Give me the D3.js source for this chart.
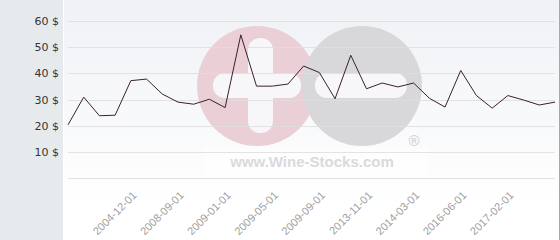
<!DOCTYPE html>
<html>
<head>
<meta charset="utf-8">
<script src="https://cdn.jsdelivr.net/npm/d3@7"></script>
<style>
  html, body { margin: 0; padding: 0; background: #fff; }
  svg { display: block; }
</style>
</head>
<body>
<div id="chart"></div>
<script>
// price history, one value per sale (32 points)
var prices = [20.3, 30.9, 23.8, 24.0, 37.2, 37.8, 32.1, 29.0, 28.2, 30.1,
              26.9, 54.7, 35.1, 35.1, 35.9, 42.8, 40.3, 30.3, 46.9, 34.1,
              36.3, 34.8, 36.3, 30.5, 27.1, 41.1, 31.5, 26.7, 31.5, 29.8,
              27.9, 29.0];
// only every 3rd point carries a date label
var labelIndex = [4, 7, 10, 13, 16, 19, 22, 25, 28];
var labelText = ["2004-12-01", "2008-09-01", "2009-01-01", "2009-05-01", "2009-09-01",
                 "2013-11-01", "2014-03-01", "2016-06-01", "2017-02-01"];
var yTicks = [0, 10, 20, 30, 40, 50, 60];

var W = 560, H = 240;
var panelW = 63;
var margin = {left: 68, right: 5, top: 21, bottom: 62};

var svg = d3.select("#chart").append("svg")
    .attr("width", W)
    .attr("height", H);

var defs = svg.append("defs");
var grad = defs.append("linearGradient")
    .attr("id", "bg")
    .attr("x1", 0).attr("y1", 0).attr("x2", 0).attr("y2", 1);
grad.append("stop").attr("offset", "0%").attr("stop-color", "#eff1f5");
grad.append("stop").attr("offset", "85%").attr("stop-color", "#ffffff");

// left grey panel + plot background
svg.append("rect").attr("x", 0).attr("y", 0).attr("width", panelW).attr("height", H)
    .attr("fill", "#e6eaed");
svg.append("rect").attr("x", panelW + 1).attr("y", 0).attr("width", W - panelW - 2).attr("height", H)
    .attr("fill", "url(#bg)");
svg.append("line").attr("x1", W - 0.5).attr("x2", W - 0.5).attr("y1", 0).attr("y2", H)
    .attr("stroke", "#a8a8a8");

var x = d3.scalePoint()
    .domain(d3.range(prices.length))
    .range([margin.left, W - margin.right]);

var y = d3.scaleLinear()
    .domain([0, 60])
    .range([H - margin.bottom, margin.top]);

// watermark (behind grid)
var wm = svg.append("g").attr("class", "watermark");
wm.append("rect").attr("x", 205).attr("y", 148).attr("width", 222).attr("height", 28)
    .attr("fill", "#ffffff").attr("opacity", 0.6);
wm.append("circle").attr("cx", 257).attr("cy", 86).attr("r", 60).attr("fill", "#eacfd6");
wm.append("circle").attr("cx", 362).attr("cy", 86).attr("r", 60).attr("fill", "#d8d8da");
wm.append("rect").attr("x", 248).attr("y", 38).attr("width", 25).attr("height", 95)
    .attr("rx", 12).attr("fill", "#f7f7f9");
wm.append("rect").attr("x", 213).attr("y", 73).attr("width", 88).attr("height", 25)
    .attr("rx", 12).attr("fill", "#f7f7f9");
wm.append("rect").attr("x", 315).attr("y", 73).attr("width", 92).attr("height", 25)
    .attr("rx", 12).attr("fill", "#f7f7f9");
wm.append("text").attr("x", 312).attr("y", 167)
    .attr("text-anchor", "middle")
    .style("font-family", "'Liberation Sans', Arial, sans-serif")
    .style("font-size", "15px")
    .style("font-weight", "bold")
    .attr("fill", "#dadadc")
    .text("www.Wine-Stocks.com");
wm.append("text").attr("x", 414).attr("y", 146)
    .attr("text-anchor", "middle")
    .style("font-family", "'Liberation Sans', Arial, sans-serif")
    .style("font-size", "15px")
    .style("font-weight", "bold")
    .attr("fill", "#d6d6d8")
    .text("®");

// gridlines
svg.append("g")
  .selectAll("line")
  .data(yTicks)
  .enter()
  .append("line")
    .attr("x1", margin.left)
    .attr("x2", W - margin.right)
    .attr("y1", function(d){ return Math.round(y(d)) + 0.5; })
    .attr("y2", function(d){ return Math.round(y(d)) + 0.5; })
    .attr("stroke", "#dedede")
    .attr("stroke-opacity", 0.85)
    .attr("stroke-width", 1);

// y axis labels
var yAxis = d3.axisLeft(y)
    .tickValues(yTicks.filter(function(d){ return d > 0; }))
    .tickSize(0)
    .tickPadding(0)
    .tickFormat(function(d){ return d + " $"; });

var gy = svg.append("g")
    .attr("transform", "translate(59,0)")
    .call(yAxis);
gy.select(".domain").remove();
gy.selectAll("text")
    .style("font-family", "'DejaVu Sans', sans-serif")
    .style("font-size", "11px")
    .attr("fill", "#333");

// x axis labels
var xAxis = d3.axisBottom(x)
    .tickValues(labelIndex)
    .tickSize(0)
    .tickFormat(function(d){ return labelText[labelIndex.indexOf(d)]; });

var gx = svg.append("g")
    .attr("transform", "translate(0," + (H - margin.bottom) + ")")
    .call(xAxis);
gx.select(".domain").remove();
gx.selectAll("text")
    .style("font-family", "'Liberation Sans', Arial, sans-serif")
    .style("font-size", "11px")
    .attr("fill", "#a0a0a0")
    .attr("text-anchor", "end")
    .attr("dy", "0")
    .attr("y", 0)
    .attr("transform", "translate(6,18) rotate(-45)");

// price line
var line = d3.line()
    .x(function(d, i){ return x(i); })
    .y(function(d){ return y(d); });

svg.append("path")
    .datum(prices)
    .attr("d", line)
    .attr("fill", "none")
    .attr("stroke", "#3b1f2e")
    .attr("stroke-width", 1);
</script>
</body>
</html>
